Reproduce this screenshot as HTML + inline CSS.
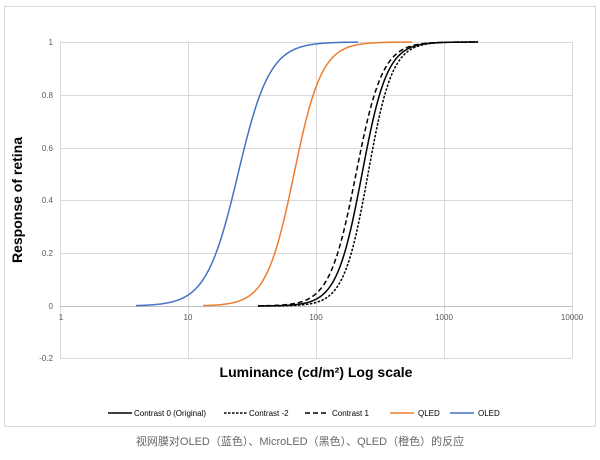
<!DOCTYPE html>
<html><head><meta charset="utf-8"><style>
body{margin:0;background:#fff;width:600px;height:460px;overflow:hidden}
svg{display:block}
text{font-family:"Liberation Sans",sans-serif}
</style></head><body>
<svg id="s" width="600" height="460" xmlns="http://www.w3.org/2000/svg">
<rect x="4.5" y="6.5" width="591" height="420" fill="#fff" stroke="#d9d9d9"/>
<g stroke="#d9d9d9" stroke-width="1">
<line x1="60" y1="42.5" x2="572" y2="42.5"/>
<line x1="60" y1="95.5" x2="572" y2="95.5"/>
<line x1="60" y1="148.5" x2="572" y2="148.5"/>
<line x1="60" y1="200.5" x2="572" y2="200.5"/>
<line x1="60" y1="253.5" x2="572" y2="253.5"/>
<line x1="60" y1="358.5" x2="572" y2="358.5"/>
<line x1="60.5" y1="42" x2="60.5" y2="358"/>
<line x1="188.5" y1="42" x2="188.5" y2="358"/>
<line x1="316.5" y1="42" x2="316.5" y2="358"/>
<line x1="444.5" y1="42" x2="444.5" y2="358"/>
<line x1="572.5" y1="42" x2="572.5" y2="358"/>
<line x1="60" y1="306.5" x2="572" y2="306.5" stroke="#bfbfbf"/>
</g>
<g font-size="8" fill="#595959" text-anchor="end">
<text x="53" y="45">1</text><text x="53" y="98">0.8</text><text x="53" y="151">0.6</text>
<text x="53" y="203">0.4</text><text x="53" y="256">0.2</text><text x="53" y="309">0</text>
<text x="53" y="361">-0.2</text>
</g>
<g font-size="8" fill="#595959" text-anchor="middle">
<text x="61" y="320">1</text><text x="188" y="320">10</text><text x="316" y="320">100</text>
<text x="444" y="320">1000</text><text x="572" y="320">10000</text>
</g>
<text x="316" y="377" font-size="14" font-weight="bold" text-anchor="middle" fill="#000">Luminance (cd/m²) Log scale</text>
<text transform="translate(22,200) rotate(-90)" font-size="14" font-weight="bold" text-anchor="middle" fill="#000">Response of retina</text>
<g id="curves" fill="none" stroke-width="1.5"></g>
<g font-size="8" fill="#000">
<line x1="108" y1="413" x2="132" y2="413" stroke="#000" stroke-width="1.5"/><text x="134" y="416">Contrast 0 (Original)</text>
<line x1="224" y1="413" x2="248" y2="413" stroke="#000" stroke-width="1.5" stroke-dasharray="2.5,1.5"/><text x="249" y="416">Contrast -2</text>
<line x1="305" y1="413" x2="329" y2="413" stroke="#000" stroke-width="1.5" stroke-dasharray="5,3"/><text x="332" y="416">Contrast 1</text>
<line x1="390" y1="413" x2="414" y2="413" stroke="#ed7d31" stroke-width="1.5"/><text x="418" y="416">QLED</text>
<line x1="450" y1="413" x2="474" y2="413" stroke="#4472c4" stroke-width="1.5"/><text x="478" y="416">OLED</text>
</g>
<text x="300" y="445" font-size="11" fill="#666" text-anchor="middle" style='font-family:"Liberation Sans","Noto Sans CJK SC",sans-serif'>视网膜对OLED（蓝色）、MicroLED（黑色）、QLED（橙色）的反应</text>
</svg>
<script>
var g=document.getElementById('curves');
function curve(x0,x1,xh,n,col,dash){
 var d='';
 for(var x=x0;x<=x1;x+=1){
  var t=(x-xh)/128*Math.LN10*n;
  var v=1/(1+Math.exp(-t));
  var y=306-264*v;
  d+=(x==x0?'M':'L')+x+' '+y.toFixed(2);
 }
 var p=document.createElementNS('http://www.w3.org/2000/svg','path');
 p.setAttribute('d',d);p.setAttribute('stroke',col);
 if(dash)p.setAttribute('stroke-dasharray',dash);
 g.appendChild(p);
}
curve(136,358,238,3.5,'#4472c4');
curve(203,412,294,4.0,'#ed7d31');
curve(258,478,362,4.4,'#000');
curve(258,478,368,4.6,'#000','2.5,1.5');
curve(258,478,356,4.2,'#000','5,3');
</script>
</body></html>
